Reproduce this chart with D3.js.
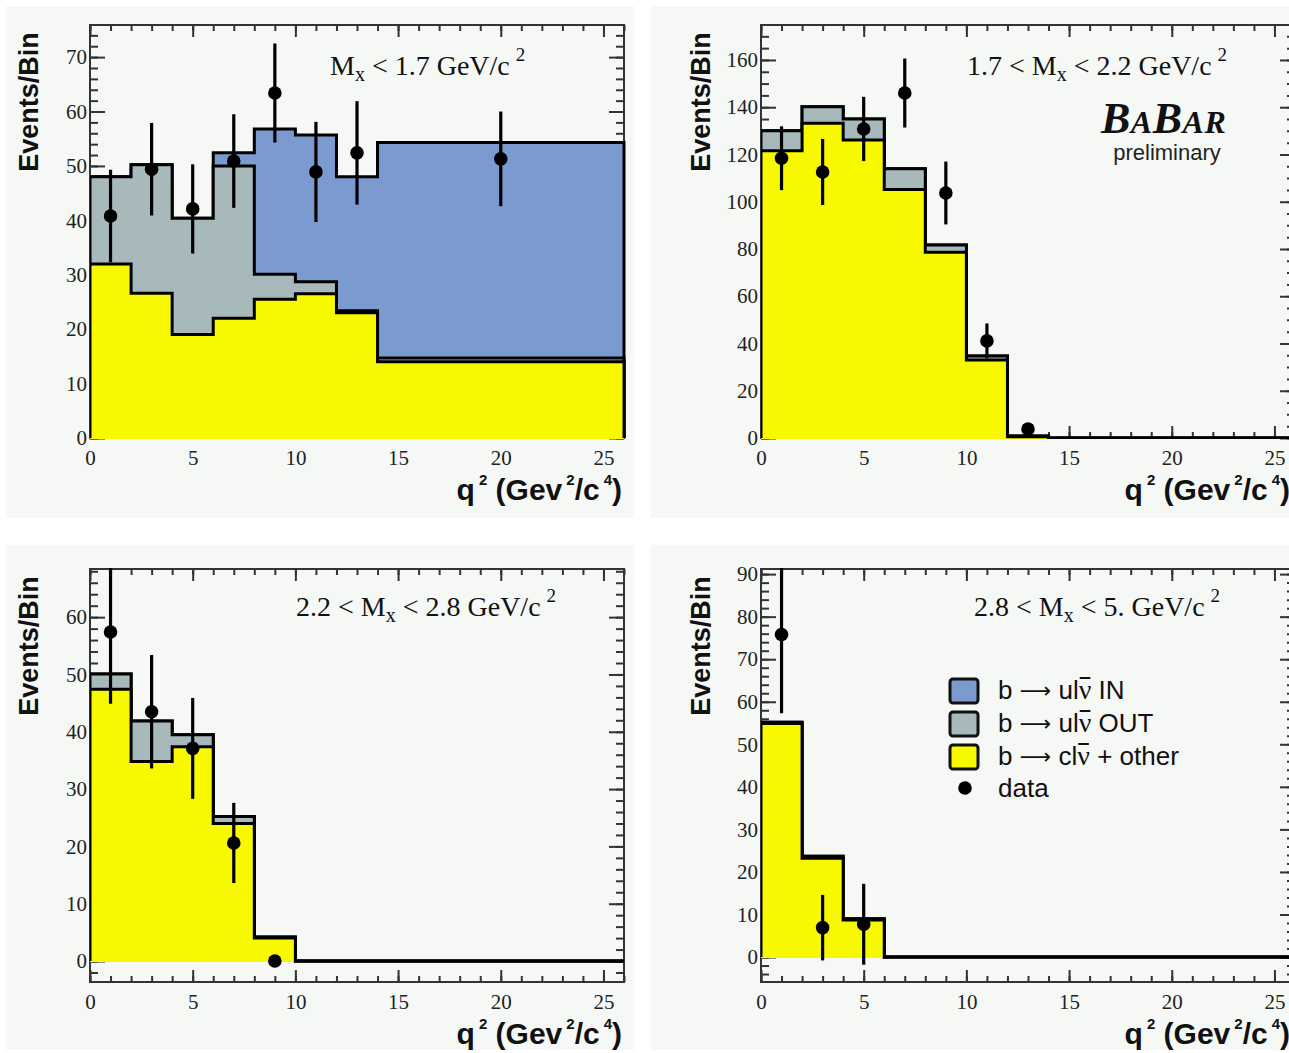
<!DOCTYPE html>
<html><head><meta charset="utf-8">
<script src="https://cdn.jsdelivr.net/npm/d3@7"></script>
<style>
body{margin:0;background:#fff;}
svg{display:block;}
.tick text{font-family:"Liberation Serif","Times New Roman",serif;font-size:21px;fill:#222;}
.tick line{stroke:#333;stroke-width:2;}
</style></head><body>
<svg id="chart" width="1289" height="1053"></svg>
<script>
// ---------- data ----------
const binEdges = [0, 2, 4, 6, 8, 10, 12, 14, 26];
const xTickLabels = [0, 5, 10, 15, 20, 25];

// Panel 1: Mx < 1.7
const p1Charm = [32, 26.6, 19, 22, 25.5, 26.5, 23, 14];
const p1Out   = [16, 23.6, 21.4, 28, 4.6, 2.2, 0.4, 0.7];
const p1In    = [0, 0, 0, 2.4, 26.7, 27, 24.6, 39.6];
const p1DataX = [1, 3, 5, 7, 9, 11, 13, 20];
const p1DataY = [40.8, 49.4, 42.1, 50.9, 63.4, 48.9, 52.4, 51.3];
const p1DataErr = [8.5, 8.5, 8.2, 8.6, 9.1, 9.2, 9.5, 8.7];
const p1YTicks = [0, 10, 20, 30, 40, 50, 60, 70];

// Panel 2: 1.7 < Mx < 2.2
const p2Charm = [121.6, 133.2, 126.1, 105.2, 78.6, 33, 0.5, 0];
const p2Out   = [8.4, 7, 8.9, 8.8, 3.1, 1.7, 0.3, 0];
const p2In    = [0, 0, 0, 0, 0, 0, 0, 0];
const p2DataX = [1, 3, 5, 7, 9, 11, 13];
const p2DataY = [118.4, 112.6, 130.8, 146, 103.7, 41.1, 3.8];
const p2DataErr = [13.5, 14, 13.6, 14.6, 13.3, 7.4, 2];
const p2YTicks = [0, 20, 40, 60, 80, 100, 120, 140, 160];

// Panel 3: 2.2 < Mx < 2.8
const p3Charm = [47.4, 34.8, 37.4, 24.0, 4.0, 0, 0, 0];
const p3Out   = [2.7, 7.1, 2.1, 1.2, 0.2, 0, 0, 0];
const p3In    = [0, 0, 0, 0, 0, 0, 0, 0];
const p3DataX = [1, 3, 5, 7, 9];
const p3DataY = [57.4, 43.5, 37.1, 20.6, 0];
const p3DataErr = [12.5, 9.9, 8.8, 7, 0];
const p3YTicks = [0, 10, 20, 30, 40, 50, 60];

// Panel 4: 2.8 < Mx < 5.
const p4Charm = [54.9, 23.2, 8.7, 0, 0, 0, 0, 0];
const p4Out   = [0.3, 0.5, 0.3, 0, 0, 0, 0, 0];
const p4In    = [0, 0, 0, 0, 0, 0, 0, 0];
const p4DataX = [1, 3, 5];
const p4DataY = [75.8, 6.9, 7.7];
const p4DataErr = [18.5, 7.7, 9.5];
const p4YTicks = [0, 10, 20, 30, 40, 50, 60, 70, 80, 90];

const legendLabels = [
  {quark: "u", post: " IN", cls: "in"},
  {quark: "u", post: " OUT", cls: "out"},
  {quark: "c", post: " + other", cls: "charm"},
  {quark: "", post: "data", cls: "data"}
];

// ---------- style / layout ----------
const colors = {in: "#7b9bd0", out: "#a8b9bc", charm: "#f8f800", bg: "#f5f8f5"};
const sans = "'Liberation Sans', Arial, Helvetica, sans-serif";
const serif = "'Liberation Serif', 'Times New Roman', serif";

const panels = [
  {left: 90, right: 624, top: 25, bottom: 438, yDomain: [0, 75.9], yMajor: p1YTicks, yMinorStep: 2,
   charm: p1Charm, out: p1Out, inn: p1In, dX: p1DataX, dY: p1DataY, dE: p1DataErr,
   title: [["M"], ["x", "sub"], [" < 1.7 GeV/c"], ["2", "sup"]], titleX: 330, titleY: 75,
   bg: [6, 6, 628, 512], yTitleX: 38, yTitleY: 102, xTitleX: 622, xTitleY: 500},
  {left: 761, right: 1295, top: 25, bottom: 438, yDomain: [0, 174.8], yMajor: p2YTicks, yMinorStep: 5,
   charm: p2Charm, out: p2Out, inn: p2In, dX: p2DataX, dY: p2DataY, dE: p2DataErr,
   title: [["1.7 < M"], ["x", "sub"], [" < 2.2 GeV/c"], ["2", "sup"]], titleX: 967, titleY: 75,
   bg: [651, 6, 640, 512], yTitleX: 710, yTitleY: 102, xTitleX: 1290, xTitleY: 500},
  {left: 90, right: 624, top: 569, bottom: 982, yDomain: [-3.66, 68.4], yMajor: p3YTicks, yMinorStep: 2,
   charm: p3Charm, out: p3Out, inn: p3In, dX: p3DataX, dY: p3DataY, dE: p3DataErr,
   title: [["2.2 < M"], ["x", "sub"], [" < 2.8 GeV/c"], ["2", "sup"]], titleX: 296, titleY: 616,
   bg: [6, 545, 628, 505], yTitleX: 38, yTitleY: 646, xTitleX: 622, xTitleY: 1044},
  {left: 761, right: 1295, top: 569, bottom: 982, yDomain: [-5.87, 91.2], yMajor: p4YTicks, yMinorStep: 2,
   charm: p4Charm, out: p4Out, inn: p4In, dX: p4DataX, dY: p4DataY, dE: p4DataErr,
   title: [["2.8 < M"], ["x", "sub"], [" < 5. GeV/c"], ["2", "sup"]], titleX: 974, titleY: 616,
   bg: [651, 545, 640, 505], yTitleX: 710, yTitleY: 646, xTitleX: 1290, xTitleY: 1044}
];

const svg = d3.select("#chart");

function styleAxis(sel) {
  sel.select(".domain").remove();
}

function drawPanel(p, i) {
  const g = svg.append("g");
  g.append("rect").attr("x", p.bg[0]).attr("y", p.bg[1]).attr("width", p.bg[2]).attr("height", p.bg[3])
    .attr("fill", colors.bg);

  const x = d3.scaleLinear().domain([0, 26]).range([p.left, p.right]);
  const y = d3.scaleLinear().domain(p.yDomain).range([p.bottom, p.top]);

  const xMinor = d3.range(0, 27, 1);
  const yMinor = d3.range(Math.ceil(p.yDomain[0] / p.yMinorStep) * p.yMinorStep, p.yDomain[1], p.yMinorStep);

  // axes (drawn beneath histograms)
  g.append("g").attr("transform", `translate(0,${p.bottom})`)
    .call(d3.axisBottom(x).tickValues(xMinor).tickSizeInner(-6).tickSizeOuter(0).tickFormat(""))
    .call(styleAxis);
  g.append("g").attr("transform", `translate(0,${p.bottom})`)
    .call(d3.axisBottom(x).tickValues(xTickLabels).tickSizeInner(-12).tickSizeOuter(0).tickPadding(12).tickFormat(d3.format("d")))
    .call(styleAxis);
  g.append("g").attr("transform", `translate(0,${p.top})`)
    .call(d3.axisTop(x).tickValues(xMinor).tickSizeInner(-6).tickSizeOuter(0).tickFormat(""))
    .call(styleAxis);
  g.append("g").attr("transform", `translate(0,${p.top})`)
    .call(d3.axisTop(x).tickValues(xTickLabels).tickSizeInner(-12).tickSizeOuter(0).tickFormat(""))
    .call(styleAxis);
  g.append("g").attr("transform", `translate(${p.left},0)`)
    .call(d3.axisLeft(y).tickValues(yMinor).tickSizeInner(-8).tickSizeOuter(0).tickFormat(""))
    .call(styleAxis);
  g.append("g").attr("transform", `translate(${p.left},0)`)
    .call(d3.axisLeft(y).tickValues(p.yMajor).tickSizeInner(-15).tickSizeOuter(0).tickPadding(3).tickFormat(d3.format("d")))
    .call(styleAxis);
  g.append("g").attr("transform", `translate(${p.right},0)`)
    .call(d3.axisRight(y).tickValues(yMinor).tickSizeInner(-8).tickSizeOuter(0).tickFormat(""))
    .call(styleAxis);
  g.append("g").attr("transform", `translate(${p.right},0)`)
    .call(d3.axisRight(y).tickValues(p.yMajor).tickSizeInner(-15).tickSizeOuter(0).tickFormat(""))
    .call(styleAxis);

  // frame
  g.append("rect").attr("x", p.left).attr("y", p.top).attr("width", p.right - p.left).attr("height", p.bottom - p.top)
    .attr("fill", "none").attr("stroke", "#333").attr("stroke-width", 2);

  // clip
  const clipId = "clip" + i;
  svg.append("clipPath").attr("id", clipId).append("rect")
    .attr("x", p.left).attr("y", p.top - 1).attr("width", p.right - p.left + 2).attr("height", p.bottom - p.top + 2);
  const plot = g.append("g").attr("clip-path", `url(#${clipId})`);

  // stacked histograms
  const layers = [
    {vals: p.charm.map((c, k) => c + p.out[k] + p.inn[k]), fill: colors.in},
    {vals: p.charm.map((c, k) => c + p.out[k]), fill: colors.out},
    {vals: p.charm.slice(), fill: colors.charm}
  ];
  const nb = binEdges.length - 1;
  layers.forEach(L => {
    const pts = d3.range(nb).map(k => [binEdges[k], L.vals[k]]);
    pts.push([binEdges[nb], L.vals[nb - 1]]);
    const area = d3.area().curve(d3.curveStepAfter)
      .x(d => x(d[0])).y0(y(0) + 1).y1(d => y(d[1]));
    plot.append("path").attr("d", area(pts)).attr("fill", L.fill);
    const linePts = [[0, 0]].concat(pts).concat([[binEdges[nb], 0]]);
    const line = d3.line().curve(d3.curveStepAfter).x(d => x(d[0])).y(d => y(d[1]));
    plot.append("path").attr("d", line(linePts)).attr("fill", "none")
      .attr("stroke", "#000").attr("stroke-width", 3).attr("stroke-linejoin", "miter");
  });

  // data points
  const pts = p.dX.map((xx, k) => ({x: xx, y: p.dY[k], e: p.dE[k]}));
  plot.selectAll(".err").data(pts.filter(d => d.e > 0)).enter().append("line")
    .attr("x1", d => x(d.x)).attr("x2", d => x(d.x))
    .attr("y1", d => y(d.y - d.e)).attr("y2", d => y(d.y + d.e))
    .attr("stroke", "#000").attr("stroke-width", 3.2);
  plot.selectAll(".pt").data(pts).enter().append("circle")
    .attr("cx", d => x(d.x)).attr("cy", d => y(d.y)).attr("r", 6.8).attr("fill", "#000");

  // titles
  const t = g.append("text").attr("x", p.titleX).attr("y", p.titleY)
    .attr("font-family", serif).attr("font-size", 28).attr("fill", "#111");
  p.title.forEach(part => {
    const ts = t.append("tspan").text(part[0]);
    if (part[1] === "sub") ts.attr("font-size", 20).attr("dy", 6);
    else if (part[1] === "sup") ts.attr("font-size", 19).attr("dy", -14).attr("dx", 6);
    else ts.attr("dy", t.node().childNodes.length > 1 ? -6 : 0);
  });

  g.append("text").attr("transform", `translate(${p.yTitleX},${p.yTitleY}) rotate(-90)`)
    .attr("text-anchor", "middle").attr("font-family", sans).attr("font-weight", "bold")
    .attr("font-size", 27).attr("fill", "#111").text("Events/Bin");

  const xt = g.append("text").attr("x", p.xTitleX).attr("y", p.xTitleY).attr("text-anchor", "end")
    .attr("font-family", sans).attr("font-weight", "bold").attr("font-size", 30).attr("fill", "#111");
  xt.append("tspan").text("q");
  xt.append("tspan").attr("font-size", 15).attr("dy", -15).attr("dx", 4).text("2");
  xt.append("tspan").attr("dy", 15).text(" (Gev");
  xt.append("tspan").attr("font-size", 15).attr("dy", -15).attr("dx", 4).text("2");
  xt.append("tspan").attr("dy", 15).text("/c");
  xt.append("tspan").attr("font-size", 15).attr("dy", -15).attr("dx", 4).text("4");
  xt.append("tspan").attr("dy", 15).text(")");
}

panels.forEach(drawPanel);

// BaBar logo (panel 2)
const logo = svg.append("text").attr("x", 1101).attr("y", 133).attr("font-family", serif)
  .attr("font-weight", "bold").attr("font-style", "italic").attr("fill", "#111").attr("letter-spacing", 0.5);
logo.append("tspan").attr("font-size", 44).text("B");
logo.append("tspan").attr("font-size", 32).text("A");
logo.append("tspan").attr("font-size", 44).text("B");
logo.append("tspan").attr("font-size", 32).text("AR");
svg.append("text").attr("x", 1167).attr("y", 160).attr("text-anchor", "middle")
  .attr("font-family", sans).attr("font-size", 22).attr("fill", "#222").text("preliminary");

// Legend (panel 4)
const legend = svg.append("g");
const legRowY = [699, 732, 765, 797];
legendLabels.forEach((L, k) => {
  if (L.cls === "data") {
    legend.append("circle").attr("cx", 965).attr("cy", legRowY[k] - 9).attr("r", 6.8).attr("fill", "#000");
  } else {
    legend.append("rect").attr("x", 950).attr("y", legRowY[k] - 20).attr("width", 28).attr("height", 24)
      .attr("rx", 3).attr("fill", colors[L.cls]).attr("stroke", "#111").attr("stroke-width", 3);
  }
  const tx = legend.append("text").attr("x", 998).attr("y", legRowY[k])
    .attr("font-family", sans).attr("font-size", 26).attr("fill", "#111");
  if (L.quark) {
    tx.append("tspan").text("b ");
    tx.append("tspan").attr("font-family", "'DejaVu Sans', sans-serif").attr("font-size", 22).attr("dy", -1).text("\u27F6");
    tx.append("tspan").attr("dy", 1).text(" " + L.quark + "l");
    const nu = tx.append("tspan").attr("font-family", serif).attr("font-size", 28).text("\u03bd");
    tx.append("tspan").text(L.post);
    // bar over the nu (anti-neutrino)
    const idx = ("b " + "\u27F6" + " " + L.quark + "l").length;
    const s = tx.node().getStartPositionOfChar(idx);
    const e = tx.node().getEndPositionOfChar(idx);
    legend.append("line").attr("x1", s.x + 1).attr("x2", e.x - 1)
      .attr("y1", legRowY[k] - 21).attr("y2", legRowY[k] - 21)
      .attr("stroke", "#111").attr("stroke-width", 2);
  } else {
    tx.append("tspan").text(L.post);
  }
});
</script>
</body></html>
